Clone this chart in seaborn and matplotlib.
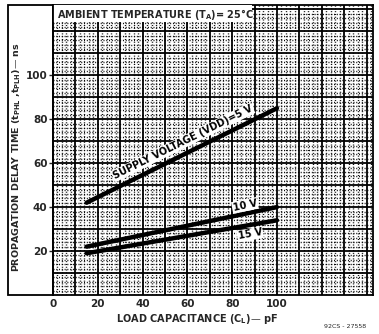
import math
import numpy as np
import pandas as pd
import matplotlib
matplotlib.use("Agg")
import matplotlib.pyplot as plt
import seaborn as sns
from matplotlib.patches import Rectangle

# Propagation delay vs. load capacitance, one line per supply voltage
load_pf = [15, 100]
delay_5v = [42, 85]
delay_10v = [22, 40]
delay_15v = [19, 34]
supply_names = ["5 V", "10 V", "15 V"]
line_labels = ["SUPPLY VOLTAGE (VDD)=5 V", "10 V", "15 V"]
x_ticks = [0, 20, 40, 60, 80, 100]
y_ticks = [20, 40, 60, 80, 100]

sns.set_theme(style="white")
plt.rcParams["font.family"] = ["DejaVu Sans"]
plt.rcParams["mathtext.fontset"] = "dejavusans"

df = pd.DataFrame({
    "load": load_pf * 3,
    "delay": delay_5v + delay_10v + delay_15v,
    "vdd": [supply_names[0]] * 2 + [supply_names[1]] * 2 + [supply_names[2]] * 2,
})

W, H = 379, 334
fig = plt.figure(figsize=(W / 100, H / 100), dpi=100)
fig.patch.set_facecolor("white")
ax = fig.add_axes([53 / W, 39 / H, 320 / W, 290 / H])
ax.set_facecolor("white")

XMAX, YMAX = 142.9, 132
ax.set_xlim(0, XMAX)
ax.set_ylim(0, YMAX)

# graph-paper grid: heavy every 10, dotted every 2
dot = (0, (0.7, 1.3))
for v in np.arange(2, XMAX, 2):
    if int(round(v)) % 10 == 0:
        ax.axvline(v, color="black", lw=1.3, zorder=0.6)
    else:
        ax.axvline(v, color="black", lw=1.0, ls=dot, zorder=0.5)
for v in np.arange(2, YMAX, 2):
    if int(round(v)) % 10 == 0:
        ax.axhline(v, color="black", lw=1.3, zorder=0.6)
    else:
        ax.axhline(v, color="black", lw=1.0, ls=dot, zorder=0.5)

sns.lineplot(data=df, x="load", y="delay", hue="vdd",
             palette=["black"] * 3, linewidth=3.2, legend=False,
             ax=ax, zorder=3)

series = [delay_5v, delay_10v, delay_15v]
label_pos = [(58, 69.5), (85.7, 40.8), (88, 27.6)]
for vals, text, (lx, ly) in zip(series, line_labels, label_pos):
    ang = math.degrees(math.atan2(vals[1] - vals[0], load_pf[1] - load_pf[0]))
    ax.text(lx, ly, text, rotation=ang, transform_rotates_text=True,
            rotation_mode="anchor", ha="center", va="center",
            fontsize=7, fontweight="bold", color="black", zorder=5,
            bbox=dict(facecolor="white", edgecolor="none", pad=0.6))

# title box in the upper-left corner
ax.add_patch(Rectangle((0, 1 - 17 / 290), 199 / 320, 17 / 290,
                       transform=ax.transAxes, facecolor="white",
                       edgecolor="none", zorder=4))
ax.text(4 / 320, 1 - 9 / 290, r"AMBIENT TEMPERATURE (T$_\mathbf{A}$)= 25°C",
        transform=ax.transAxes, ha="left", va="center",
        fontsize=7, fontweight="bold", zorder=5)

ax.set_xticks(x_ticks)
ax.set_yticks(y_ticks)
ax.tick_params(axis="x", length=0, pad=3, labelsize=7.5)
ax.tick_params(axis="y", length=3, width=1, pad=1, labelsize=7.5, left=True)
for lab in ax.get_xticklabels() + ax.get_yticklabels():
    lab.set_fontweight("bold")
ax.set_xlabel("")
ax.set_ylabel("")

for sp in ax.spines.values():
    sp.set_visible(True)
    sp.set_color("black")
    sp.set_linewidth(1.3)

# frame around the y-axis title
fig.add_artist(Rectangle((8 / W, 39 / H), 45 / W, 290 / H,
                         transform=fig.transFigure, fill=False,
                         edgecolor="black", lw=1.3))

fig.text(17 / W, 1 - 157 / H,
         r"PROPAGATION DELAY TIME (t$_\mathbf{PHL}$ ,t$_\mathbf{PLH}$)— ns",
         rotation=90, ha="center", va="center", fontsize=6.8,
         fontweight="bold")
fig.text(197 / W, 1 - 319 / H, r"LOAD CAPACITANCE (C$_\mathbf{L}$)— pF",
         ha="center", va="center", fontsize=7, fontweight="bold")
fig.text(345 / W, 1 - 327 / H, "92CS - 27558", ha="center", va="center",
         fontsize=4.5)

fig.savefig("out.png", dpi=100, facecolor="white")
